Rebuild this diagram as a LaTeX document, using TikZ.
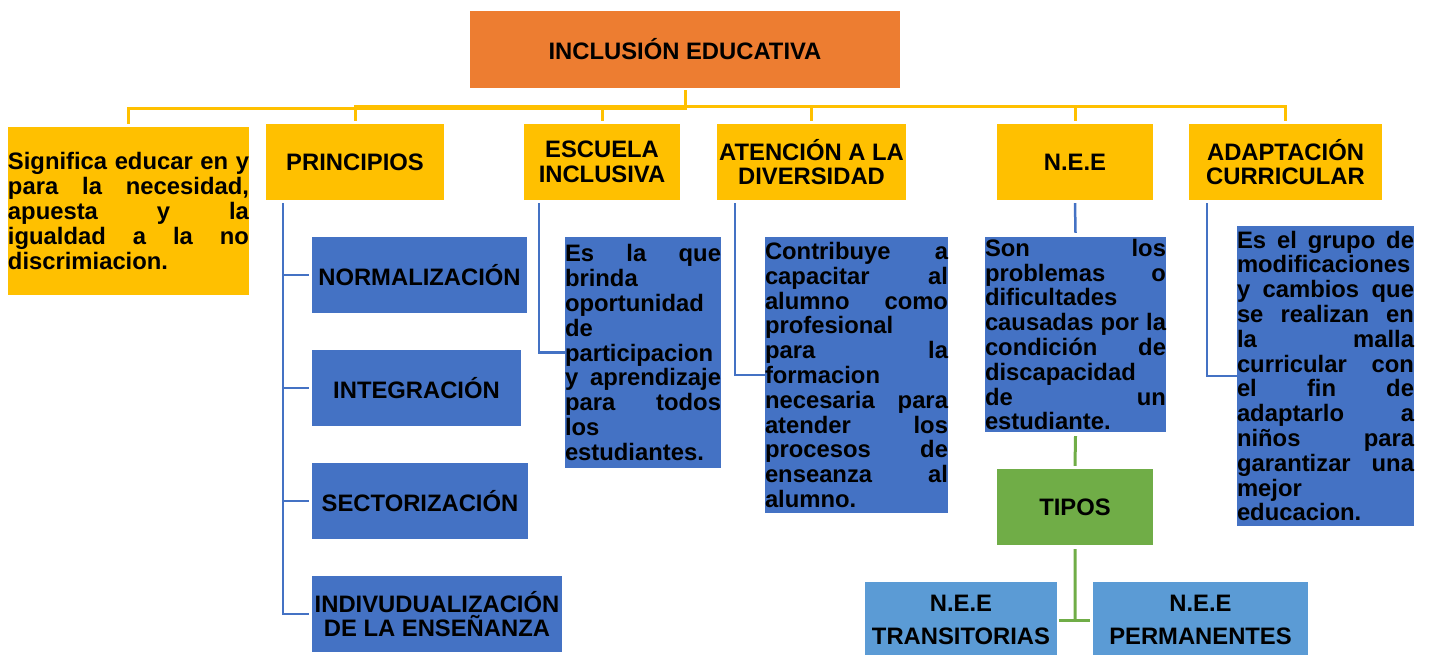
\documentclass[tikz,border=0pt]{standalone}
\usepackage{fontspec}
\setmainfont{Liberation Sans}
\usetikzlibrary{calc}

\definecolor{orangebox}{HTML}{ED7D31}
\definecolor{yellowbox}{HTML}{FFC000}
\definecolor{bluebox}{HTML}{4472C4}
\definecolor{greenbox}{HTML}{70AD47}
\definecolor{lightbox}{HTML}{5B9BD5}

\tolerance=10000
\hyphenpenalty=10000
\hbadness=10000

\begin{document}
\begin{tikzpicture}[x=1pt,y=-1pt,
	box/.style={inner sep=0pt, align=flush center, font=\bfseries\fontsize{23.8}{24.8}\selectfont},
	head/.style={box, fill=yellowbox, minimum height=76pt},
	item/.style={box, fill=bluebox, minimum height=76pt},
	desc/.style={box, align=justify, fill=bluebox},
	yline/.style={yellowbox, line width=3pt, shorten <=2pt, shorten >=3pt},
	bline/.style={bluebox, line width=2.5pt},
	gline/.style={greenbox, line width=3pt}]
		
		\useasboundingbox (0,0) rectangle (1432,655);
		
		% top
		\node[box, fill=orangebox, text width=430pt, minimum height=77pt] (top) at (685,49.5) {INCLUSIÓN EDUCATIVA};
		
		% second row
		\node[box, align=justify, fill=yellowbox, text width=241pt, minimum height=168pt] (sig) at (128.5,211)
			{Significa educar en y\linebreak para la necesidad,\linebreak apuesta y la\linebreak igualdad a la no\linebreak discrimiacion.};
		\node[head, text width=178pt] (prin) at (355,162) {PRINCIPIOS};
		\node[head, text width=156pt] (esc) at (602,162) {ESCUELA\\INCLUSIVA};
		\node[head, text width=189pt] (aten) at (811.5,162) {ATENCIÓN A LA\\DIVERSIDAD};
		\node[head, text width=156pt] (nee) at (1075,162) {N.E.E};
		\node[head, text width=193pt] (adap) at (1285.5,162) {ADAPTACIÓN\\CURRICULAR};
		
		% principios
		\node[item, text width=215pt] (norm) at (419.5,275) {NORMALIZACIÓN};
		\node[item, text width=209pt] (integ) at (416.5,388) {INTEGRACIÓN};
		\node[item, text width=216pt] (sector) at (420,501) {SECTORIZACIÓN};
		\node[item, text width=250pt] (indiv) at (437,614) {INDIVUDUALIZACIÓN\\DE LA ENSEÑANZA};
		
		% definitions
		\node[desc, text width=156pt, minimum height=231pt] (escdef) at (643,352.5)
			{Es la que\linebreak brinda\linebreak oportunidad\linebreak de\linebreak participacion\linebreak y aprendizaje\linebreak para todos\linebreak los\linebreak estudiantes.};
		\node[desc, text width=183pt, minimum height=276pt] (atdef) at (856.5,375)
			{Contribuye a\linebreak capacitar al\linebreak alumno como\linebreak profesional\linebreak para la\linebreak formacion\linebreak necesaria para\linebreak atender los\linebreak procesos de\linebreak enseanza al\linebreak alumno.};
		\node[desc, text width=181pt, minimum height=195pt] (needef) at (1075.5,334.5)
			{Son los\linebreak problemas o\linebreak dificultades\linebreak causadas por la\linebreak condición de\linebreak discapacidad\linebreak de un\linebreak estudiante.};
		\node[desc, text width=177pt, minimum height=300pt] (adapdef) at (1325.5,376)
			{Es el grupo de\linebreak modificaciones\linebreak y cambios que\linebreak se realizan en\linebreak la malla\linebreak curricular con\linebreak el fin de\linebreak adaptarlo a\linebreak niños para\linebreak garantizar una\linebreak mejor\linebreak educacion.};
		
		% tipos
		\node[box, fill=greenbox, text width=156pt, minimum height=76pt] (tipos) at (1075,507) {TIPOS};
		\node[box, fill=lightbox, text width=192pt, minimum height=76pt] (trans) at (961,620) {N.E.E\\[8pt]TRANSITORIAS};
		\node[box, fill=lightbox, text width=215pt, minimum height=76pt] (perm) at (1200.5,620) {N.E.E\\[8pt]PERMANENTES};
		
		% yellow connectors
		\draw[yline] (top.south) -- ++(0,20) -| (sig.north);
		\foreach \n in {prin,esc,aten,nee,adap}
			\draw[yline] (top.south) -- ++(0,18) -| (\n.north);
		
		% blue connectors
		\foreach \n in {norm,integ,sector,indiv}
			\draw[bline] ([xshift=17pt,yshift=-3pt]prin.south west) |- ([xshift=-3pt]\n.west);
		\draw[bline] ([xshift=15pt,yshift=-3pt]esc.south west) |- (escdef.west);
		\draw[bline] ([xshift=18pt,yshift=-3pt]aten.south west) |- (atdef.west);
		\draw[bline] ([xshift=18pt,yshift=-3pt]adap.south west) |- (adapdef.west);
		\draw[bline] ([yshift=-3pt]nee.south) -- ([yshift=4pt]needef.north);
		
		% green connectors
		\coordinate (split) at ($(trans.east)!.5!(perm.west)$);
		\draw[gline] ([yshift=-4pt]needef.south) -- ([yshift=3pt]tipos.north);
		\draw[gline] ([yshift=-4pt]tipos.south) -- (split);
		\draw[gline] ([xshift=2pt]trans.east) -- ([xshift=-3pt]perm.west);
	\end{tikzpicture}
\end{document}
